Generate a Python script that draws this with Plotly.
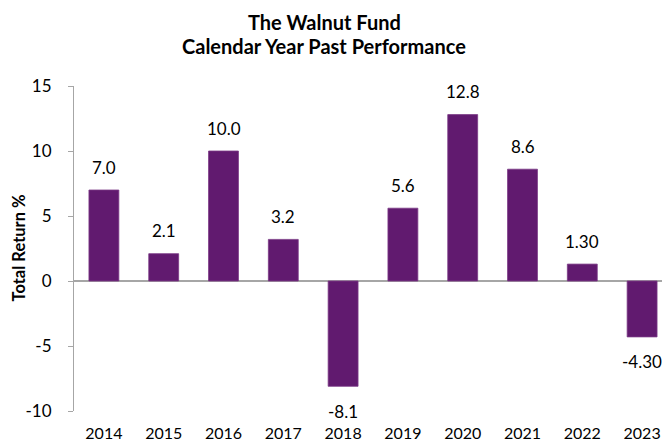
import plotly.graph_objects as go

years = ["2014", "2015", "2016", "2017", "2018", "2019", "2020", "2021", "2022", "2023"]
returns = [7.0, 2.1, 10.0, 3.2, -8.1, 5.6, 12.8, 8.6, 1.30, -4.30]
labels = ["7.0", "2.1", "10.0", "3.2", "-8.1", "5.6", "12.8", "8.6", "1.30", "-4.30"]
y_ticks = [-10, -5, 0, 5, 10, 15]
y_tick_text = ["-10", "-5", "0", "5", "10", "15"]

FONT = "Lato, 'Open Sans', sans-serif"
BAR = "#611A6F"
GRAY = "#A6A6A6"

W, H = 662, 442
L, R, T, B = 74, 0, 86, 31
plot_h = H - T - B
plot_w = W - L - R

fig = go.Figure()
fig.add_trace(go.Bar(
    x=list(range(len(years))), y=returns,
    marker=dict(color=BAR, line=dict(color="#7B3A86", width=0.8)),
    width=0.5, hoverinfo="x+y",
))

for i, (v, t) in enumerate(zip(returns, labels)):
    fig.add_annotation(
        x=i, y=v, text=t, showarrow=False, xref="x", yref="y",
        yshift=23 if v >= 0 else -25,
        font=dict(family=FONT, size=17, color="#000000"),
    )

title_x = (324 - L) / plot_w
for txt, ypx in [("The Walnut Fund", 22), ("Calendar Year Past Performance", 46)]:
    fig.add_annotation(
        x=title_x, y=(H - B - ypx) / plot_h, xref="paper", yref="paper",
        text=f"<b>{txt}</b>", showarrow=False, xanchor="center", yanchor="middle",
        font=dict(family=FONT, size=20, color="#000000"),
    )

fig.add_annotation(
    x=(18 - L) / plot_w, y=0.5, xref="paper", yref="paper",
    text="<b>Total Return %</b>", showarrow=False, textangle=-90,
    xanchor="center", yanchor="middle",
    font=dict(family=FONT, size=16.5, color="#000000"),
)

fig.update_layout(
    width=W, height=H,
    margin=dict(l=L, r=R, t=T, b=B, autoexpand=False),
    paper_bgcolor="white", plot_bgcolor="white",
    showlegend=False,
    font=dict(family=FONT, size=17, color="#000000"),
)
fig.update_xaxes(
    range=[-0.5, -0.5 + plot_w / 59.8],
    tickmode="array", tickvals=list(range(len(years))), ticktext=years,
    showgrid=False, zeroline=False, showline=False, ticks="",
    ticklabelstandoff=11,
    tickfont=dict(family=FONT, size=16, color="#000000"),
)
fig.update_yaxes(
    range=[-10, 15], tickmode="array", tickvals=y_ticks, ticktext=y_tick_text,
    showgrid=False, zeroline=True, zerolinecolor=GRAY, zerolinewidth=1.5,
    showline=True, linecolor=GRAY, linewidth=1.2,
    ticks="outside", ticklen=5, tickcolor=GRAY, tickwidth=1.2,
    ticklabelstandoff=13,
    tickfont=dict(family=FONT, size=17, color="#000000"),
)

fig.write_html(
    "out.html",
    config={"displayModeBar": False},
    post_script="document.body.style.margin='0';document.body.style.overflow='hidden';",
)
